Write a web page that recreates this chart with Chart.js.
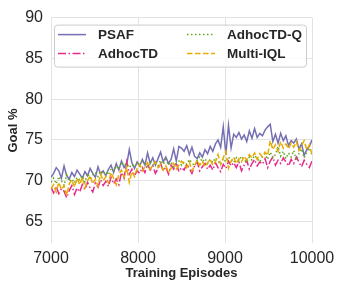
<!doctype html>
<html lang="en">
<head>
  <meta charset="utf-8">
  <title>goal chart</title>
  <style>
    html, body { margin: 0; padding: 0; background: #fff; }
    canvas { display: block; }
  </style>
</head>
<body>
  <canvas id="myChart" width="346" height="291"></canvas>

  <script src="https://cdn.jsdelivr.net/npm/chart.js@4/dist/chart.umd.min.js"></script>
  <script>
  // x positions: one point every 30 episodes, 7000..10000
  const firstEpisode = 7000;
  const episodeStep = 30;

  const xTicks = [7000, 8000, 9000, 10000];
  const yTicks = [65, 70, 75, 80, 85, 90];

  const psaf = [
    70.4, 70.9, 71.6, 71.2, 70.3, 71.8, 70.6, 70.2, 71.0, 70.5, 71.3,
    70.8, 70.3, 71.1, 70.6, 71.5, 70.9, 70.4, 71.7, 70.8, 71.2,
    70.6, 71.4, 71.9, 71.0, 72.1, 71.3, 72.4, 71.6, 72.0, 73.8,
    72.2, 71.5, 72.3, 71.8, 72.6, 71.9, 73.4, 72.1, 72.8, 71.9,
    72.7, 73.5, 72.3, 72.9, 72.1, 72.6, 73.9, 72.4, 74.2, 74.0,
    73.6, 74.3, 73.2, 74.1, 73.0, 72.7, 73.4, 72.9, 73.8, 73.3,
    74.2, 73.6, 74.5, 75.0, 74.1, 76.6, 73.2, 76.8, 74.0, 75.7,
    75.3, 75.9, 75.1, 75.6, 74.8, 76.1, 75.2, 76.4, 75.3, 75.8,
    75.5, 76.2, 76.6, 76.9, 74.8, 75.7, 74.6, 75.8, 74.9, 75.5,
    74.3, 74.9, 74.6, 75.1, 73.9, 74.5, 73.1, 73.8, 74.2, 75.0
  ];

  const adhocTD = [
    69.2, 68.5, 69.3, 68.4, 69.0, 68.7, 67.9, 68.8, 69.4, 68.3, 69.1,
    68.6, 69.5, 68.9, 69.8, 69.1, 68.6, 69.7, 69.2, 70.1, 69.4,
    69.9, 69.3, 70.4, 69.6, 70.2, 69.5, 71.0, 70.3, 72.3, 70.8,
    71.4, 70.6, 71.2, 70.9, 71.6, 71.0, 72.0, 71.3, 71.8, 70.9,
    71.5, 72.1, 71.2, 71.7, 70.8, 71.9, 71.4, 72.2, 71.1, 71.6,
    71.3, 72.0, 71.5, 70.9, 71.8, 72.3, 71.2, 71.7, 72.1, 71.4,
    71.9, 71.3, 72.2, 71.6, 71.1, 72.0, 71.5, 72.4, 71.8, 72.2,
    71.6, 72.3, 71.2, 71.9, 72.5, 71.4, 72.1, 72.6, 71.8, 72.3,
    72.0, 72.7, 71.6, 72.4, 72.9, 71.9, 72.5, 72.1, 72.8, 72.3,
    71.8, 72.6, 72.1, 72.9, 72.3, 71.7, 72.5, 72.0, 71.6, 72.4
  ];

  const adhocTDQ = [
    69.8, 70.3, 69.6, 70.5, 70.0, 69.4, 70.7, 69.9, 70.2, 69.7, 70.4,
    70.1, 70.6, 69.8, 70.9, 70.3, 70.7, 71.0, 70.5, 71.2, 70.8,
    71.1, 70.7, 71.5, 71.2, 71.8, 71.4, 72.3, 71.9, 72.1, 71.6,
    72.0, 71.7, 72.2, 71.8, 72.4, 72.0, 71.6, 72.3, 71.9, 72.2,
    71.8, 72.5, 72.0, 72.6, 71.9, 72.3, 71.7, 72.1, 72.4, 71.9,
    72.3, 72.0, 72.6, 72.2, 71.8, 72.5, 72.9, 72.3, 72.7, 72.1,
    72.6, 72.2, 72.8, 72.4, 72.0, 72.7, 72.3, 72.9, 72.5, 72.2,
    72.8, 72.4, 73.0, 72.6, 72.2, 72.9, 72.5, 73.1, 72.7, 72.3,
    72.9, 73.3, 72.6, 73.5, 72.8, 73.2, 74.2, 73.0, 73.6, 72.7,
    73.4, 72.9, 73.7, 72.5, 73.3, 73.9, 72.8, 73.5, 74.0, 73.2
  ];

  const multiIQL = [
    69.0, 69.5, 68.6, 69.8, 68.9, 69.4, 68.2, 69.6, 70.1, 69.2, 70.3,
    69.5, 70.4, 69.1, 70.0, 70.6, 69.6, 70.2, 69.3, 70.8, 70.0,
    70.5, 69.7, 71.0, 70.3, 69.5, 70.8, 71.3, 70.4, 71.6, 69.8,
    71.1, 70.5, 71.5, 72.0, 71.2, 71.7, 72.2, 71.4, 71.9, 72.3,
    71.6, 72.0, 71.3, 71.8, 71.0, 71.5, 72.1, 71.4, 71.9, 72.4,
    72.0, 71.6, 72.3, 71.2, 71.8, 72.5, 71.9, 72.4, 71.7, 72.2,
    72.6, 71.9, 72.3, 73.2, 72.0, 72.8, 73.6, 71.5, 72.4, 72.9,
    72.1, 72.7, 72.3, 73.0, 72.5, 73.2, 72.8, 73.4, 72.6, 73.3,
    72.9, 73.5, 73.1, 74.9, 73.8, 74.4, 73.6, 74.8, 74.0, 74.5,
    73.9, 74.6, 74.1, 74.8, 73.7, 74.3, 74.9, 73.8, 74.4, 73.2
  ];

  function toPoints(values) {
    return values.map((v, i) => ({ x: firstEpisode + i * episodeStep, y: v }));
  }

  const textColor = '#262626';
  const gridColor = '#e3e3e3';

  // legend drawn by hand so it can be two columns with line styles
  const legendPlugin = {
    id: 'boxLegend',
    afterDatasetsDraw(chart) {
      const ctx = chart.ctx;
      const area = chart.chartArea;
      const x0 = area.left + 3, y0 = area.top + 7, w = 252, h = 42;
      ctx.save();
      ctx.beginPath();
      ctx.roundRect(x0 + 0.5, y0 + 0.5, w, h, 3);
      ctx.fillStyle = 'rgba(255,255,255,0.85)';
      ctx.fill();
      ctx.strokeStyle = '#cccccc';
      ctx.lineWidth = 1;
      ctx.stroke();

      const slots = [
        { ds: 0, lx: x0 + 4, ly: y0 + 10 },
        { ds: 1, lx: x0 + 4, ly: y0 + 29 },
        { ds: 2, lx: x0 + 133, ly: y0 + 10 },
        { ds: 3, lx: x0 + 133, ly: y0 + 29 }
      ];
      ctx.font = 'bold 13.5px "Liberation Sans", Arial, sans-serif';
      ctx.textBaseline = 'middle';
      slots.forEach(s => {
        const d = chart.data.datasets[s.ds];
        ctx.beginPath();
        ctx.setLineDash(d.borderDash || []);
        ctx.strokeStyle = d.borderColor;
        ctx.lineWidth = d.borderWidth;
        ctx.moveTo(s.lx, s.ly);
        ctx.lineTo(s.lx + 28, s.ly);
        ctx.stroke();
        ctx.setLineDash([]);
        ctx.fillStyle = textColor;
        ctx.fillText(d.label, s.lx + 40, s.ly + 1);
      });
      ctx.restore();
    }
  };

  const ctx = document.getElementById('myChart').getContext('2d');
  const chart = new Chart(ctx, {
    type: 'line',
    data: {
      datasets: [
        {
          label: 'PSAF',
          data: toPoints(psaf),
          borderColor: '#7570b3',
          borderWidth: 1.5,
          order: 4
        },
        {
          label: 'AdhocTD',
          data: toPoints(adhocTD),
          borderColor: '#e7298a',
          borderWidth: 1.5,
          borderDash: [8, 2.5, 1.5, 2.5],
          order: 3
        },
        {
          label: 'AdhocTD-Q',
          data: toPoints(adhocTDQ),
          borderColor: '#66a61e',
          borderWidth: 1.5,
          borderDash: [1.5, 2.5],
          order: 2
        },
        {
          label: 'Multi-IQL',
          data: toPoints(multiIQL),
          borderColor: '#e6ab02',
          borderWidth: 1.5,
          borderDash: [5.5, 2.5],
          order: 1
        }
      ]
    },
    options: {
      responsive: false,
      animation: false,
      layout: { padding: { top: 15, right: 34, left: 0, bottom: 0 } },
      elements: {
        point: { radius: 0 },
        line: { tension: 0, fill: false }
      },
      plugins: {
        legend: { display: false },
        tooltip: { enabled: false }
      },
      scales: {
        x: {
          type: 'linear',
          min: 7000,
          max: 10000,
          afterBuildTicks: axis => { axis.ticks = xTicks.map(v => ({ value: v })); },
          afterFit: axis => { axis.height -= 8; },
          border: { display: false },
          grid: { color: gridColor, lineWidth: 1, drawTicks: false },
          ticks: {
            color: textColor,
            padding: 7,
            maxRotation: 0,
            font: { family: '"Liberation Sans", Arial, sans-serif', size: 16, lineHeight: 1 },
            callback: v => String(v)
          },
          title: {
            display: true,
            text: 'Training Episodes',
            color: textColor,
            padding: { top: 0, bottom: 10 },
            font: { family: '"Liberation Sans", Arial, sans-serif', size: 13, weight: 'bold' }
          }
        },
        y: {
          min: 62.3,
          max: 90,
          afterBuildTicks: axis => { axis.ticks = yTicks.map(v => ({ value: v })); },
          afterFit: axis => { axis.width = 51; },
          border: { display: false },
          grid: { color: gridColor, lineWidth: 1, drawTicks: false },
          ticks: {
            color: textColor,
            padding: 8,
            font: { family: '"Liberation Sans", Arial, sans-serif', size: 16 },
            callback: v => String(v)
          },
          title: {
            display: true,
            text: 'Goal %',
            color: textColor,
            padding: { top: 6, bottom: 0 },
            font: { family: '"Liberation Sans", Arial, sans-serif', size: 13, weight: 'bold' }
          }
        }
      }
    },
    plugins: [legendPlugin]
  });
  </script>
</body>
</html>
